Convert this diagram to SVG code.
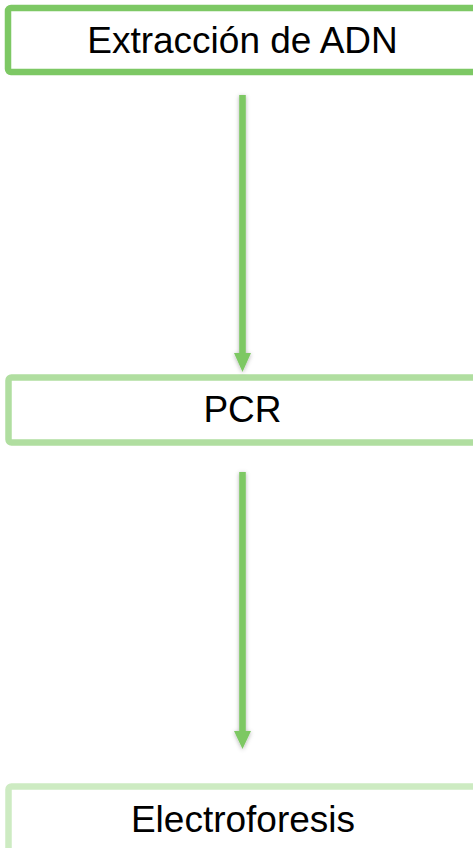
<svg xmlns="http://www.w3.org/2000/svg" width="473" height="848" viewBox="0 0 473 848">
  <style>
    .box { fill: #ffffff; stroke-width: 6.5; }
    .label { font-family: "Liberation Sans", Arial, sans-serif; font-size: 37px; fill: #000000; text-anchor: middle; }
    .link { fill: #7DC864; }
  </style>
  <defs>
    <filter id="soft" x="-100%" y="-10%" width="300%" height="120%">
      <feDropShadow dx="0" dy="1" stdDeviation="2.2" flood-color="#000000" flood-opacity="0.3"/>
    </filter>
  </defs>

  <g id="extraccion">
    <rect class="box" x="8" y="8" width="469" height="64" rx="3" stroke="#7DC864"/>
    <text class="label" x="242.5" y="53">Extracción de ADN</text>
  </g>

  <g id="pcr">
    <rect class="box" x="8.5" y="377.5" width="469" height="65" rx="3" stroke="#B0DEA0"/>
    <text class="label" x="242.5" y="422">PCR</text>
  </g>

  <g id="electroforesis">
    <rect class="box" x="8.5" y="786.5" width="469" height="80" rx="3" stroke="#CDEBC2"/>
    <text class="label" x="243" y="832">Electroforesis</text>
  </g>

  <g id="connectors" filter="url(#soft)">
    <path class="link" d="M239.2,95 H245.8 V353 H251 L242.5,372 L234,353 H239.2 Z"/>
    <path class="link" d="M239.2,472 H245.8 V731 H251 L242.5,749 L234,731 H239.2 Z"/>
  </g>
</svg>
